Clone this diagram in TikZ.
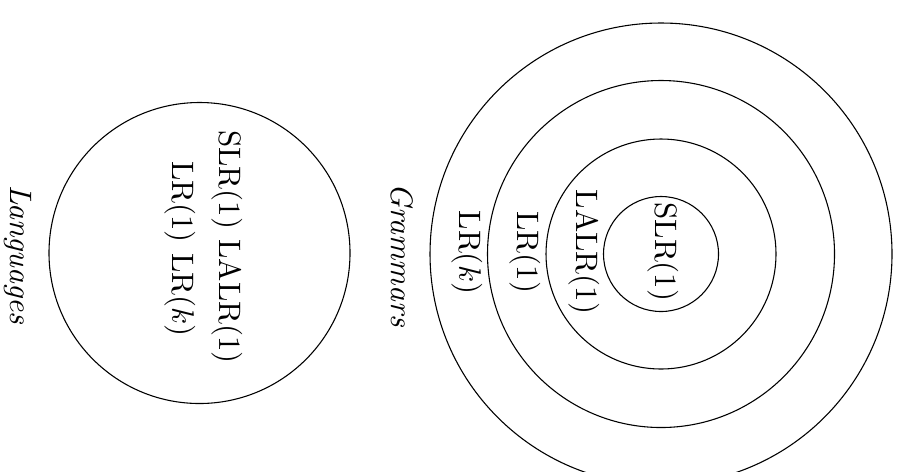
\documentclass[tikz,border=0pt]{standalone}
\begin{document}
\begin{tikzpicture}[x=0.3226pt,y=-0.3226pt,
  ring/.style={draw=black,line width=0.35pt},
  lbl/.style={rotate=-90,inner sep=0pt,anchor=center},
  ttl/.style={rotate=-90,inner sep=0pt,anchor=base,font=\itshape}]
\useasboundingbox (0,0) rectangle (898,471);
\clip (0,0) rectangle (898,471);
% centres
\coordinate (L) at (199.5,253);
\coordinate (G) at (661,254);
% circles
\draw[ring] (L) circle[radius=150.5];
\draw[ring] (G) circle[radius=57.5];
\draw[ring] (G) circle[radius=115];
\draw[ring] (G) circle[radius=173.5];
\draw[ring] (G) circle[radius=231];
% grammar labels
\node[lbl] (gslr) at (663,252) {SLR(1)};
\node[lbl] (glalr) at (584,252) {LALR(1)};
\node[lbl] (glr1) at (525,252.5) {LR(1)};
\node[lbl] (glrk) at (467,252.5) {LR($k$)};
\node[ttl] (gram) at (391,255) {Grammars};
% language labels
\node[lbl] (l1) at (227.5,247) {SLR(1) LALR(1)};
\node[lbl] (l2) at (180,249) {LR(1) LR($k$)};
\node[ttl] (lang) at (10,255) {Languages};
\end{tikzpicture}
\end{document}
